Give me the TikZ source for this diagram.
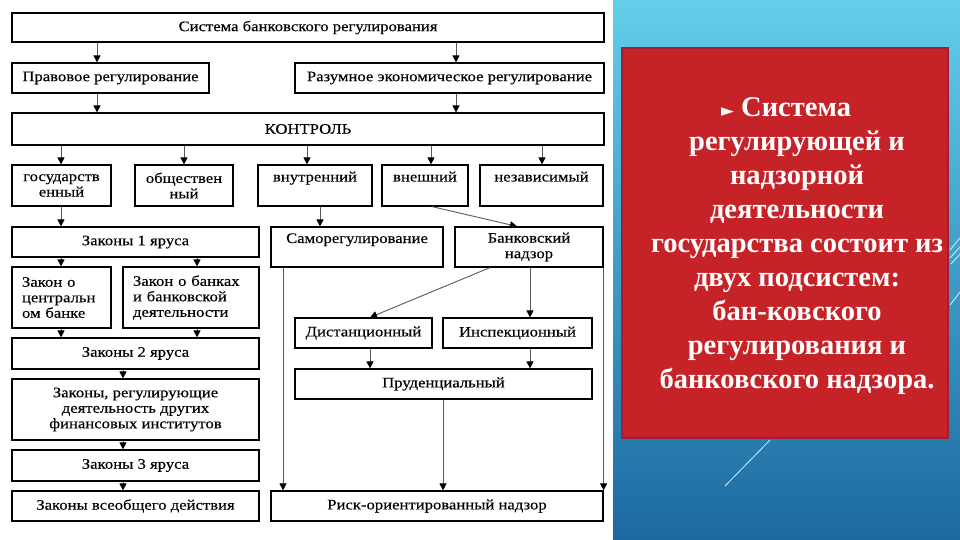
\documentclass[tikz,border=0pt]{standalone}
\usepackage{fontspec}
\setmainfont{Liberation Serif}
\newfontfamily\diagfont[FakeStretch=1.15,FakeBold=0.3]{Liberation Serif}
\newfontfamily\symfont{DejaVu Sans}
\usetikzlibrary{arrows.meta}
\definecolor{slidered}{HTML}{C62329}
\definecolor{redborder}{HTML}{9E1F36}
\definecolor{bluetop}{HTML}{63CEEA}
\definecolor{bluemid}{HTML}{3BA3D5}
\definecolor{bluebot}{HTML}{1C69A1}
\definecolor{decoline}{HTML}{CFF1FB}
\tikzset{
  box/.style={draw=black, line width=1.2pt, inner sep=0pt, align=center,
    font=\diagfont\fontsize{14.5}{15.5}\selectfont},
  topal/.style={text height=10pt, text depth=18pt},
  lbox/.style={box, align=left, inner xsep=10pt},
  arr/.style={draw=black!65, line width=0.9pt,
    -{Triangle[length=7pt,width=7pt,color=black]}},
  paneltext/.style={text=white, align=center,
    font=\bfseries\fontsize{28.5}{34}\selectfont},
  deco/.style={draw=decoline, line width=0.8pt}
}
\begin{document}
\begin{tikzpicture}[x=1pt,y=-1pt]
\useasboundingbox (0,0) rectangle (960,540);
\fill[white] (0,0) rectangle (960,540);
% right panel background
\shade[top color=bluetop, middle color=bluemid, bottom color=bluebot] (613,0) rectangle (960,540);
\fill[slidered] (622,48) rectangle (948,438);
\draw[redborder, line width=1.5pt] (622,48) rectangle (948,438);
\draw[deco] (725,486) -- (770,440);
\draw[deco] (950,250) -- (960,238);
\draw[deco] (950,258) -- (960,247);
\draw[deco] (951,264) -- (960,254);
\draw[deco] (950,305) -- (960,292);

% left diagram boxes
\node[box, minimum width=592, minimum height=29] (sys) at (308,27.5) {Система банковского регулирования};
\node[box, minimum width=197, minimum height=30] (pravo) at (110.5,78) {Правовое регулирование};
\node[box, minimum width=309, minimum height=30] (razum) at (449.5,78) {Разумное экономическое регулирование};
\node[box, minimum width=592, minimum height=32] (kontrol) at (308,129) {КОНТРОЛЬ};
\node[box, minimum width=99, minimum height=41] (gos) at (61.5,185.5) {государств\\енный};
\node[box, minimum width=98, minimum height=41] (obsh) at (184,185.5) {обществен\\ный};
\node[box, topal, minimum width=114, minimum height=41] (vnutr) at (315,185.5) {внутренний};
\node[box, topal, minimum width=86, minimum height=41] (vnesh) at (425,185.5) {внешний};
\node[box, topal, minimum width=123, minimum height=41] (nezav) at (541.5,185.5) {независимый};
\node[box, minimum width=247, minimum height=30] (zak1) at (135.5,242) {Законы 1 яруса};
\node[lbox, text width=79, minimum width=99, minimum height=61] (zcb) at (61.5,297.5) {Закон о\\центральн\\ом банке};
\node[lbox, text width=116, minimum width=136, minimum height=61] (zbank) at (191,297.5) {Закон о банках\\и банковской\\деятельности};
\node[box, minimum width=247, minimum height=31] (zak2) at (135.5,353.5) {Законы 2 яруса};
\node[box, minimum width=247, minimum height=61] (zfin) at (135.5,409.5) {Законы, регулирующие\\деятельность других\\финансовых институтов};
\node[box, minimum width=247, minimum height=31] (zak3) at (135.5,465.5) {Законы 3 яруса};
\node[box, minimum width=247, minimum height=30] (zall) at (135.5,506) {Законы всеобщего действия};
\node[box, topal, minimum width=172, minimum height=40] (samo) at (357,247) {Саморегулирование};
\node[box, minimum width=148, minimum height=40] (bnadz) at (529,247) {Банковский\\надзор};
\node[box, minimum width=137, minimum height=30] (dist) at (363.5,333) {Дистанционный};
\node[box, minimum width=149, minimum height=30] (insp) at (517.5,333) {Инспекционный};
\node[box, minimum width=297, minimum height=30] (prud) at (443.5,384) {Пруденциальный};
\node[box, minimum width=332, minimum height=30] (risk) at (437,506) {Риск-ориентированный надзор};

% connectors
\draw[arr] (97,0 |- sys.south) -- (97,0 |- pravo.north);
\draw[arr] (456,0 |- sys.south) -- (456,0 |- razum.north);
\draw[arr] (97,0 |- pravo.south) -- (97,0 |- kontrol.north);
\draw[arr] (456,0 |- razum.south) -- (456,0 |- kontrol.north);
\draw[arr] (61,0 |- kontrol.south) -- (61,0 |- gos.north);
\draw[arr] (184,0 |- kontrol.south) -- (184,0 |- obsh.north);
\draw[arr] (307,0 |- kontrol.south) -- (307,0 |- vnutr.north);
\draw[arr] (431,0 |- kontrol.south) -- (431,0 |- vnesh.north);
\draw[arr] (542,0 |- kontrol.south) -- (542,0 |- nezav.north);
\draw[arr] (61,0 |- gos.south) -- (61,0 |- zak1.north);
\draw[arr] (61,0 |- zak1.south) -- (61,0 |- zcb.north);
\draw[arr] (197,0 |- zak1.south) -- (197,0 |- zbank.north);
\draw[arr] (61,0 |- zcb.south) -- (61,0 |- zak2.north);
\draw[arr] (197,0 |- zbank.south) -- (197,0 |- zak2.north);
\draw[arr] (123,0 |- zak2.south) -- (123,0 |- zfin.north);
\draw[arr] (123,0 |- zfin.south) -- (123,0 |- zak3.north);
\draw[arr] (123,0 |- zak3.south) -- (123,0 |- zall.north);
\draw[arr] (320,0 |- vnutr.south) -- (320,0 |- samo.north);
\draw[arr] (432,0 |- vnesh.south) -- (517,0 |- bnadz.north);
\draw[arr] (490,0 |- bnadz.south) -- (370,0 |- dist.north);
\draw[arr] (530,0 |- bnadz.south) -- (530,0 |- insp.north);
\draw[arr] (370,0 |- dist.south) -- (370,0 |- prud.north);
\draw[arr] (530,0 |- insp.south) -- (530,0 |- prud.north);
\draw[arr] (443,0 |- prud.south) -- (443,0 |- risk.north);
\draw[arr] (283,0 |- samo.south) -- (283,0 |- risk.north);
\draw[arr] (bnadz.south east) -- (risk.north east);

% panel text
\node[paneltext] (ptxt) at (797,246.5) {{\symfont\fontsize{17}{17}\selectfont ►}~Система\hspace*{22pt}\\регулирующей и\\надзорной\\деятельности\\государства состоит из\\двух подсистем:\\бан-ковского\\регулирования и\\банковского надзора.};
\end{tikzpicture}
\end{document}
